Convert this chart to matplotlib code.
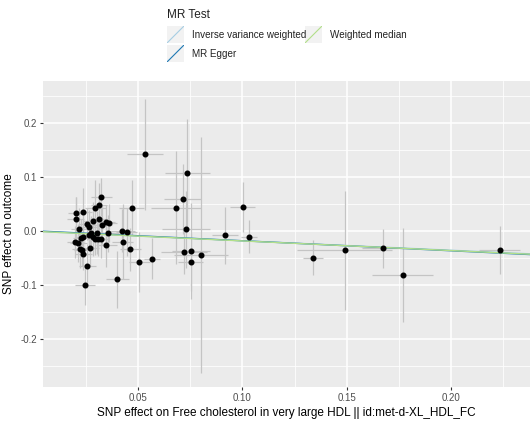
import numpy as np
import matplotlib.pyplot as plt
from matplotlib.lines import Line2D

plt.rcParams['font.family'] = ['Liberation Sans', 'DejaVu Sans']

# SNP effects: exposure (x), outcome (y) and their error bars
snp_x = [0.0532, 0.0735, 0.0713, 0.0680, 0.0470, 0.0729, 0.0719, 0.0753, 0.0800, 0.0753,
         0.0566, 0.0505, 0.0462, 0.0425, 0.0423, 0.0444, 0.0400, 0.0244, 0.0256, 0.0916,
         0.1002, 0.1031, 0.1338, 0.1490, 0.1675, 0.1770, 0.2234,
         0.0323, 0.0312, 0.0294, 0.0237, 0.0203, 0.0200, 0.0254, 0.0283, 0.0310, 0.0324,
         0.0347, 0.0358, 0.0265, 0.0217, 0.0273, 0.0300, 0.0356, 0.0236, 0.0225, 0.0265,
         0.0284, 0.0308, 0.0320, 0.0294, 0.0198, 0.0212, 0.0347, 0.0220, 0.0230, 0.0270,
         0.0236]
snp_y = [0.1426, 0.107, 0.060, 0.044, 0.044, 0.004, -0.039, -0.037, -0.044, -0.057,
         -0.051, -0.057, -0.033, -0.019, 0.001, -0.001, -0.089, -0.100, -0.064, -0.0075,
         0.0456, -0.010, -0.049, -0.035, -0.031, -0.080, -0.035,
         0.063, 0.049, 0.044, 0.035, 0.033, 0.023, 0.0135, 0.0185, 0.023, 0.0117,
         0.018, 0.016, 0.0085, 0.004, -0.0026, -0.0026, -0.004, -0.010, -0.012, -0.007,
         -0.010, -0.015, -0.0137, -0.014, -0.020, -0.022, -0.026, -0.033, -0.034, -0.030,
         -0.042]
se_x = [0.0088, 0.0108, 0.009, 0.012, 0.006, 0.0114, 0.011, 0.009, 0.013, 0.006,
        0.004, 0.005, 0.005, 0.005, 0.006, 0.005, 0.0055, 0.0048, 0.004, 0.0062,
        0.006, 0.004, 0.0048, 0.023, 0.010, 0.0146, 0.010,
        0.005, 0.004, 0.005, 0.004, 0.004, 0.004, 0.004, 0.005, 0.004, 0.005,
        0.004, 0.004, 0.004, 0.004, 0.004, 0.005, 0.005, 0.004, 0.004, 0.004,
        0.004, 0.004, 0.004, 0.004, 0.004, 0.004, 0.005, 0.004, 0.004, 0.004,
        0.004]
se_y = [0.103, 0.100, 0.065, 0.105, 0.050, 0.071, 0.040, 0.089, 0.218, 0.054,
        0.038, 0.055, 0.040, 0.070, 0.040, 0.045, 0.052, 0.037, 0.040, 0.053,
        0.046, 0.031, 0.032, 0.110, 0.036, 0.087, 0.044,
        0.035, 0.040, 0.050, 0.045, 0.030, 0.040, 0.030, 0.035, 0.040, 0.035,
        0.030, 0.035, 0.030, 0.040, 0.030, 0.040, 0.035, 0.030, 0.035, 0.030,
        0.035, 0.030, 0.035, 0.030, 0.030, 0.035, 0.040, 0.035, 0.030, 0.035,
        0.030]

# MR estimates (intercept, slope)
methods = ['Inverse variance weighted', 'MR Egger', 'Weighted median']
intercepts = [0.0, 0.001, 0.0]
slopes = [-0.175, -0.185, -0.178]
colors = ['#A6CEE3', '#1F78B4', '#B2DF8A']

fig = plt.figure(figsize=(5.3, 4.26), dpi=100)
ax = fig.add_axes([43/530, 1-387/426, 1-43/530, (387-81)/426])
ax.set_facecolor('#EBEBEB')

xlim = (0.0043, 0.238)
ylim = (-0.288, 0.278)
ax.set_xlim(xlim)
ax.set_ylim(ylim)

ax.set_xticks([0.05, 0.10, 0.15, 0.20])
ax.set_xticklabels(['0.05', '0.10', '0.15', '0.20'])
ax.set_yticks([-0.2, -0.1, 0.0, 0.1, 0.2])
ax.set_yticklabels(['-0.2', '-0.1', '0.0', '0.1', '0.2'])
ax.set_xticks([0.025, 0.075, 0.125, 0.175, 0.225], minor=True)
ax.set_yticks([-0.25, -0.15, -0.05, 0.05, 0.15, 0.25], minor=True)
ax.grid(which='major', color='white', linewidth=1.1)
ax.grid(which='minor', color='white', linewidth=0.55)
ax.set_axisbelow(True)
for s in ax.spines.values():
    s.set_visible(False)
ax.tick_params(which='major', length=2.5, width=0.8, color='#333333',
               labelsize=7, labelcolor='#4D4D4D', pad=2)
ax.tick_params(which='minor', length=0)

ax.errorbar(snp_x, snp_y, yerr=se_y, fmt='none', ecolor='#C4C4C4', elinewidth=0.9, capsize=0, zorder=2)
ax.errorbar(snp_x, snp_y, xerr=se_x, fmt='none', ecolor='#C4C4C4', elinewidth=0.9, capsize=0, zorder=2)
ax.scatter(snp_x, snp_y, s=11, color='black', zorder=4)

xs = np.array(xlim)
for b0, b1, c in zip(intercepts, slopes, colors):
    ax.plot(xs, b0 + b1 * xs, color=c, linewidth=1.0, zorder=3)

ax.set_xlabel('SNP effect on Free cholesterol in very large HDL || id:met-d-XL_HDL_FC',
              fontsize=8.5, color='black', labelpad=3)
ax.set_ylabel('SNP effect on outcome', fontsize=8.5, color='black', labelpad=4)

# legend at top, drawn by hand
fig.text(167/530, 1-15/426, 'MR Test', fontsize=8.5, va='center', ha='left', color='#222222')
key_pos = [(167, 26), (167, 45), (305, 26)]
for (kx, ky), name, c in zip(key_pos, methods, colors):
    kax = fig.add_axes([kx/530, 1-(ky+17)/426, 17/530, 17/426])
    kax.set_facecolor('#F2F2F2')
    kax.set_xlim(0, 1)
    kax.set_ylim(0, 1)
    kax.add_line(Line2D([0.0, 1.0], [0.0, 1.0], color=c, linewidth=0.8))
    kax.set_xticks([])
    kax.set_yticks([])
    for s in kax.spines.values():
        s.set_visible(False)
    fig.text((kx+25)/530, 1-(ky+9)/426, name, fontsize=7.1, va='center', ha='left', color='#222222')

fig.savefig('out.png', dpi=100)
